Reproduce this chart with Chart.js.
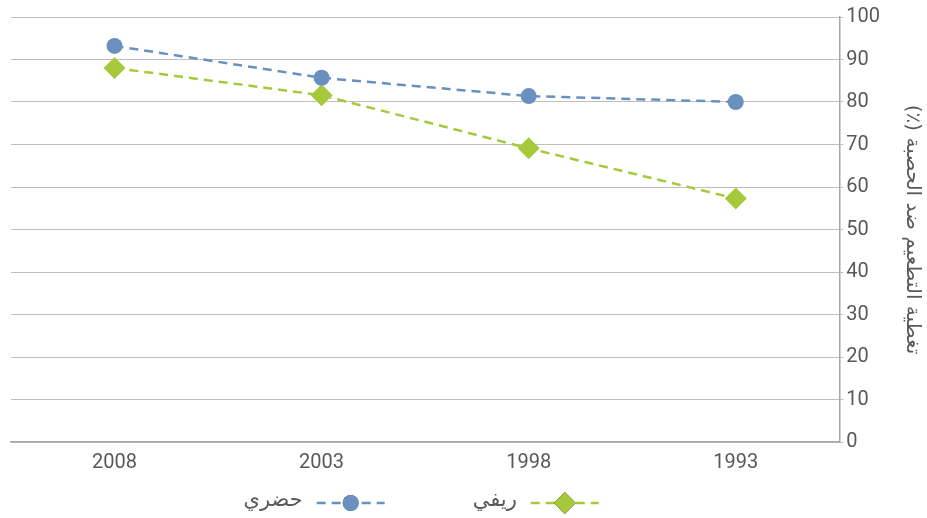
<!DOCTYPE html>
<html>
<head>
  <meta charset="utf-8">
  <script src="https://cdn.jsdelivr.net/npm/chart.js@4.4.1/dist/chart.umd.min.js"></script>
  <style>
    html, body {
      margin: 0;
      padding: 0;
      background: #ffffff;
    }
    #wrap {
      width: 927px;
      height: 518px;
    }
  </style>
</head>
<body>
  <div id="wrap"><canvas id="vacc"></canvas></div>

  <script>
    var years = ['2008', '2003', '1998', '1993'];
    var urban = [93.2, 85.7, 81.4, 80.0];
    var rural = [88.0, 81.6, 69.1, 57.3];
    var urbanLabel = 'حضري';
    var ruralLabel = 'ريفي';
    // wrapped in RLE ... PDF so the brackets stay at the left end
    var yTitle = '\u202Bتغطية التطعيم ضد الحصبة (٪)\u202C';

    var numFont = "'Roboto', sans-serif";
    var arFont = "'DejaVu Sans', sans-serif";
    var grey = '#595959';

    // legend drawn by hand: dashed line with the marker in the middle, right-to-left
    var lineLegend = {
      id: 'lineLegend',
      afterDraw: function(chart) {
        var ctx = chart.ctx;
        var area = chart.chartArea;
        var sets = chart.data.datasets.slice().reverse();
        var symW = 68, gapTxt = 14, gapItem = 88;
        ctx.save();
        ctx.font = '21px ' + arFont;
        var widths = sets.map(function(d) { return ctx.measureText(d.label).width + gapTxt + symW; });
        var total = widths.reduce(function(a, b) { return a + b; }, 0) + gapItem * (sets.length - 1);
        var x = (area.left + area.right) / 2 + total / 2 - 4;
        var y = chart.height - 15;
        sets.forEach(function(d, i) {
          var sx = x - symW;
          ctx.strokeStyle = d.borderColor;
          ctx.lineWidth = d.borderWidth;
          ctx.setLineDash(d.borderDash);
          ctx.beginPath();
          ctx.moveTo(sx, y);
          ctx.lineTo(x, y);
          ctx.stroke();
          ctx.setLineDash([]);
          Chart.helpers.drawPoint(ctx, {
            pointStyle: d.pointStyle,
            radius: d.pointRadius,
            borderWidth: 0
          }, sx + symW / 2, y);
          ctx.fillStyle = d.backgroundColor;
          ctx.fill();
          ctx.fillStyle = grey;
          ctx.textAlign = 'right';
          ctx.textBaseline = 'middle';
          ctx.fillText(d.label, sx - gapTxt, y - 2);
          x -= widths[i] + gapItem;
        });
        ctx.restore();
      }
    };

    var ctx = document.getElementById('vacc').getContext('2d');
    var config = {
      type: 'line',
      data: {
        labels: years,
        datasets: [{
          label: urbanLabel,
          data: urban,
          borderColor: '#6990BE',
          backgroundColor: '#6990BE',
          borderWidth: 2.5,
          borderDash: [9, 6],
          pointStyle: 'circle',
          pointRadius: 8,
          pointBorderWidth: 0,
          fill: false,
          tension: 0
        }, {
          label: ruralLabel,
          data: rural,
          borderColor: '#A5C93A',
          backgroundColor: '#A5C93A',
          borderWidth: 2.5,
          borderDash: [9, 6],
          pointStyle: 'rectRot',
          pointRadius: 11,
          pointBorderWidth: 0,
          fill: false,
          tension: 0
        }]
      },
      options: {
        responsive: true,
        maintainAspectRatio: false,
        animation: false,
        layout: {
          padding: { top: 17, left: 0, right: 1, bottom: 42 }
        },
        plugins: {
          legend: { display: false },
          tooltip: { enabled: false }
        },
        scales: {
          x: {
            offset: true,
            grid: { display: false },
            border: { display: true, color: '#A6A6A6', width: 1.5 },
            ticks: {
              color: grey,
              padding: 1,
              font: { family: numFont, size: 20 }
            }
          },
          y: {
            position: 'right',
            min: 0,
            max: 100,
            ticks: {
              stepSize: 10,
              color: grey,
              padding: 3,
              font: { family: numFont, size: 20 }
            },
            grid: {
              color: '#BFBFBF',
              lineWidth: 1,
              drawTicks: true,
              tickLength: 4
            },
            border: { display: true, color: '#A6A6A6', width: 1.5 },
            title: {
              display: true,
              text: yTitle,
              color: grey,
              padding: { top: 2, bottom: 17 },
              font: { family: arFont, size: 20 }
            }
          }
        }
      },
      plugins: [lineLegend]
    };

    var vaccChart = new Chart(ctx, config);
  </script>
</body>
</html>
